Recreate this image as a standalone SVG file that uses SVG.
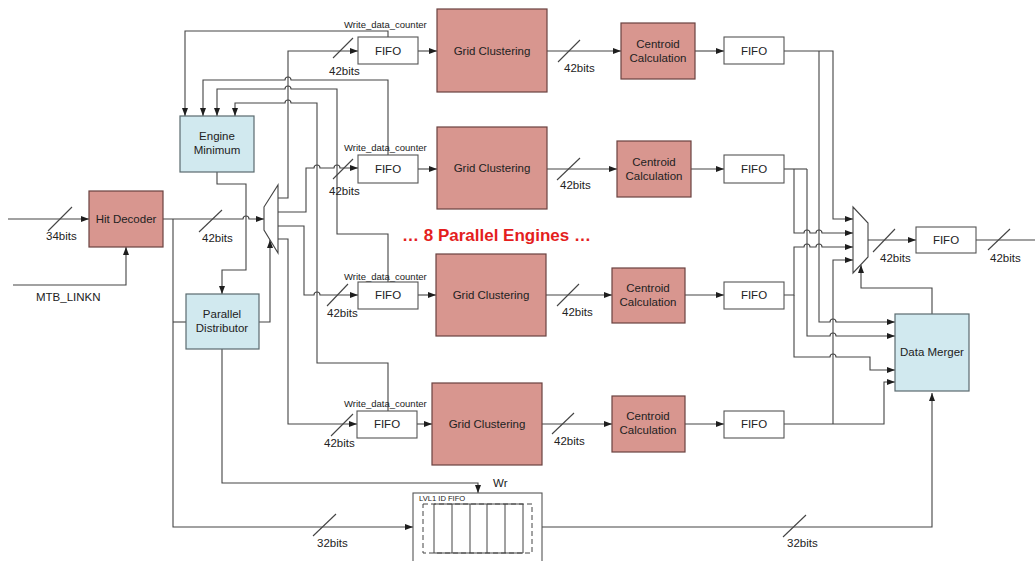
<svg xmlns="http://www.w3.org/2000/svg" width="1035" height="561" viewBox="0 0 1035 561">
<defs>
<marker id="a" markerWidth="8" markerHeight="6" refX="8" refY="3" orient="auto" markerUnits="userSpaceOnUse"><path d="M0,0 L8,3 L0,6 z" fill="#1e1e1e"/></marker>
<style>
text{font-family:"Liberation Sans",Arial,sans-serif;fill:#222;}
.t{font-size:11.5px;text-anchor:middle;dominant-baseline:central;}
.b{font-size:11.5px;dominant-baseline:central;}
.w{font-size:9.5px;dominant-baseline:central;}
.pk{fill:#d8968f;stroke:#6a4240;stroke-width:1.2;}
.bl{fill:#d1e9ef;stroke:#5a6a6e;stroke-width:1.2;}
.wh{fill:#fff;stroke:#555;stroke-width:1.1;}
.c path,.c line{fill:none;stroke:#444;stroke-width:1.1;}
.ar{marker-end:url(#a);}
</style>
</defs>
<rect width="1035" height="561" fill="#fff"/>

<g id="connectors" class="c">
<!-- inputs -->
<path class="ar" d="M8,219 H89"/>
<line x1="48" y1="231" x2="72" y2="207"/>
<path class="ar" d="M13,285 H126 V247"/>
<path class="ar" d="M163,219 H243 a3 3 0 0 1 6 0 H264"/>
<line x1="199" y1="232" x2="222" y2="210"/>
<path class="ar" d="M173,219 V527 H413"/>
<line x1="313" y1="536" x2="336" y2="514"/>
<path d="M173,322 H186"/>
<path class="ar" d="M217,172 V184 H246 V270 H222 V294"/>
<path class="ar" d="M259,322 H270 V240"/>
<path class="ar" d="M222,349 V483 H478 V493"/>
<path class="ar" d="M542,527 H932 V393"/>
<line x1="783" y1="537" x2="806" y2="515"/>
<!-- demux outputs -->
<path class="ar" d="M278,198 H288 V51 H358"/>
<line x1="333" y1="58" x2="353" y2="38"/>
<path class="ar" d="M278,212 H306 V168 H314 a3 3 0 0 1 6 0 H334 a3 3 0 0 1 6 0 H358"/>
<line x1="333" y1="179" x2="353" y2="159"/>
<path class="ar" d="M278,226 H304 V295 H314 a3 3 0 0 1 6 0 H358"/>
<line x1="327" y1="306" x2="348" y2="284"/>
<path class="ar" d="M278,239 H288 V424 H357"/>
<line x1="331" y1="436" x2="353" y2="414"/>
<!-- write data counters -->
<path class="ar" d="M388,37 V31 H185 V116"/>
<path class="ar" d="M388,155 V80 H291 a3 3 0 0 0 -6 0 H203 V116"/>
<path class="ar" d="M388,282 V234 H337 V89 H291 a3 3 0 0 0 -6 0 H217 V116"/>
<path class="ar" d="M388,411 V363 H317 V103 H291 a3 3 0 0 0 -6 0 H235 V116"/>
<!-- FIFO to grid -->
<path class="ar" d="M418,51 H437"/>
<path class="ar" d="M418,169 H437"/>
<path class="ar" d="M418,295 H436"/>
<path class="ar" d="M417,424 H432"/>
<!-- grid to centroid -->
<path class="ar" d="M547,51 H621"/>
<line x1="558" y1="62" x2="580" y2="40"/>
<path class="ar" d="M547,169 H617"/>
<line x1="557" y1="180" x2="580" y2="158"/>
<path class="ar" d="M546,295 H612"/>
<line x1="557" y1="306" x2="579" y2="284"/>
<path class="ar" d="M542,424 H612"/>
<line x1="552" y1="434" x2="574" y2="413"/>
<!-- centroid to FIFO -->
<path class="ar" d="M695,51 H724"/>
<path class="ar" d="M691,169 H724"/>
<path class="ar" d="M685,295 H724"/>
<path class="ar" d="M685,424 H724"/>
<!-- right side routing -->
<path class="ar" d="M784,51 H833 V219 H853"/>
<path class="ar" d="M819,51 V322 H830 a3 3 0 0 1 6 0 H895"/>
<path d="M784,169 H807"/>
<path class="ar" d="M807,169 V336 H830 a3 3 0 0 1 6 0 H895"/>
<path class="ar" d="M794,169 V233 H804 a3 3 0 0 1 6 0 H816 a3 3 0 0 1 6 0 H853"/>
<path class="ar" d="M784,295 H794 V247 H804 a3 3 0 0 1 6 0 H816 a3 3 0 0 1 6 0 H853"/>
<path class="ar" d="M794,295 V357 H830 a3 3 0 0 1 6 0 H870 V370 H895"/>
<path class="ar" d="M784,424 H884 V382 H895"/>
<path class="ar" d="M833,424 V260 H853"/>
<path class="ar" d="M932,314 V288 H861 V265"/>
<path class="ar" d="M868,240 H916"/>
<line x1="873" y1="252" x2="895" y2="229"/>
<path d="M976,240 H1035"/>
<line x1="988" y1="250" x2="1010" y2="229"/>
</g>

<g id="labels">
<text class="b" x="46" y="236">34bits</text>
<text class="b" x="36" y="297">MTB_LINKN</text>
<text class="b" x="202" y="238">42bits</text>
<text class="b" x="329" y="71">42bits</text>
<text class="b" x="329" y="191">42bits</text>
<text class="b" x="327" y="313">42bits</text>
<text class="b" x="324" y="443">42bits</text>
<text class="b" x="564" y="68">42bits</text>
<text class="b" x="560" y="185">42bits</text>
<text class="b" x="562" y="312">42bits</text>
<text class="b" x="554" y="441">42bits</text>
<text class="b" x="880" y="258">42bits</text>
<text class="b" x="990" y="258">42bits</text>
<text class="b" x="317" y="543">32bits</text>
<text class="b" x="787" y="543">32bits</text>
<text class="b" x="493" y="483">Wr</text>
<text class="w" x="344" y="24">Write_data_counter</text>
<text class="w" x="344" y="147">Write_data_counter</text>
<text class="w" x="344" y="276">Write_data_counter</text>
<text class="w" x="344" y="403">Write_data_counter</text>
<text x="402" y="241" style="font-size:17px;font-weight:bold;fill:#e41e1e;">… 8 Parallel Engines …</text>
</g>

<g id="hit-decoder"><rect class="pk" x="89" y="191" width="74" height="56"/><text class="t" x="126" y="219">Hit Decoder</text></g>
<g id="engine-minimum"><rect class="bl" x="180" y="116" width="74" height="56"/><text class="t" x="217" y="136">Engine</text><text class="t" x="217" y="150">Minimum</text></g>
<g id="parallel-distributor"><rect class="bl" x="186" y="294" width="73" height="55"/><text class="t" x="222" y="314">Parallel</text><text class="t" x="222" y="328">Distributor</text></g>
<g id="demux"><path d="M264,207 L278,185 L278,253 L264,230 Z" fill="#fff" stroke="#444" stroke-width="1.1"/></g>

<g id="fifo-1"><rect class="wh" x="358" y="37" width="60" height="27"/><text class="t" x="388" y="51">FIFO</text></g>
<g id="fifo-2"><rect class="wh" x="358" y="155" width="60" height="28"/><text class="t" x="388" y="169">FIFO</text></g>
<g id="fifo-3"><rect class="wh" x="358" y="282" width="60" height="27"/><text class="t" x="388" y="295">FIFO</text></g>
<g id="fifo-4"><rect class="wh" x="357" y="411" width="60" height="27"/><text class="t" x="387" y="424">FIFO</text></g>

<g id="grid-1"><rect class="pk" x="437" y="9" width="110" height="83"/><text class="t" x="492" y="51">Grid Clustering</text></g>
<g id="grid-2"><rect class="pk" x="437" y="127" width="110" height="82"/><text class="t" x="492" y="168">Grid Clustering</text></g>
<g id="grid-3"><rect class="pk" x="436" y="254" width="110" height="82"/><text class="t" x="491" y="295">Grid Clustering</text></g>
<g id="grid-4"><rect class="pk" x="432" y="383" width="110" height="82"/><text class="t" x="487" y="424">Grid Clustering</text></g>

<g id="centroid-1"><rect class="pk" x="621" y="23" width="74" height="56"/><text class="t" x="658" y="44">Centroid</text><text class="t" x="658" y="58">Calculation</text></g>
<g id="centroid-2"><rect class="pk" x="617" y="141" width="74" height="56"/><text class="t" x="654" y="162">Centroid</text><text class="t" x="654" y="176">Calculation</text></g>
<g id="centroid-3"><rect class="pk" x="612" y="268" width="73" height="55"/><text class="t" x="648" y="288">Centroid</text><text class="t" x="648" y="302">Calculation</text></g>
<g id="centroid-4"><rect class="pk" x="612" y="396" width="73" height="56"/><text class="t" x="648" y="416">Centroid</text><text class="t" x="648" y="430">Calculation</text></g>

<g id="fifo-r1"><rect class="wh" x="724" y="37" width="60" height="27"/><text class="t" x="754" y="51">FIFO</text></g>
<g id="fifo-r2"><rect class="wh" x="724" y="155" width="60" height="28"/><text class="t" x="754" y="169">FIFO</text></g>
<g id="fifo-r3"><rect class="wh" x="724" y="282" width="60" height="27"/><text class="t" x="754" y="295">FIFO</text></g>
<g id="fifo-r4"><rect class="wh" x="724" y="411" width="60" height="27"/><text class="t" x="754" y="424">FIFO</text></g>

<g id="mux"><path d="M853,207 L868,223 L868,257 L853,273 Z" fill="#fff" stroke="#444" stroke-width="1.1"/></g>
<g id="fifo-out"><rect class="wh" x="916" y="227" width="60" height="26"/><text class="t" x="946" y="240">FIFO</text></g>
<g id="data-merger"><rect class="bl" x="895" y="314" width="74" height="77"/><text class="t" x="932" y="352">Data Merger</text></g>

<g id="lvl1-id-fifo">
<rect x="413" y="493" width="129" height="80" fill="#fff" stroke="#555" stroke-width="1.1"/>
<text x="419" y="498" style="font-size:7.6px;dominant-baseline:central;">LVL1 ID FIFO</text>
<rect x="423" y="504" width="109" height="49" fill="none" stroke="#444" stroke-width="1" stroke-dasharray="5,3"/>
<path d="M434,504 H523 M434,553 H523 M434,504 V553 M452,504 V553 M470,504 V553 M487,504 V553 M505,504 V553 M523,504 V553" fill="none" stroke="#444" stroke-width="1"/>
</g>
</svg>
